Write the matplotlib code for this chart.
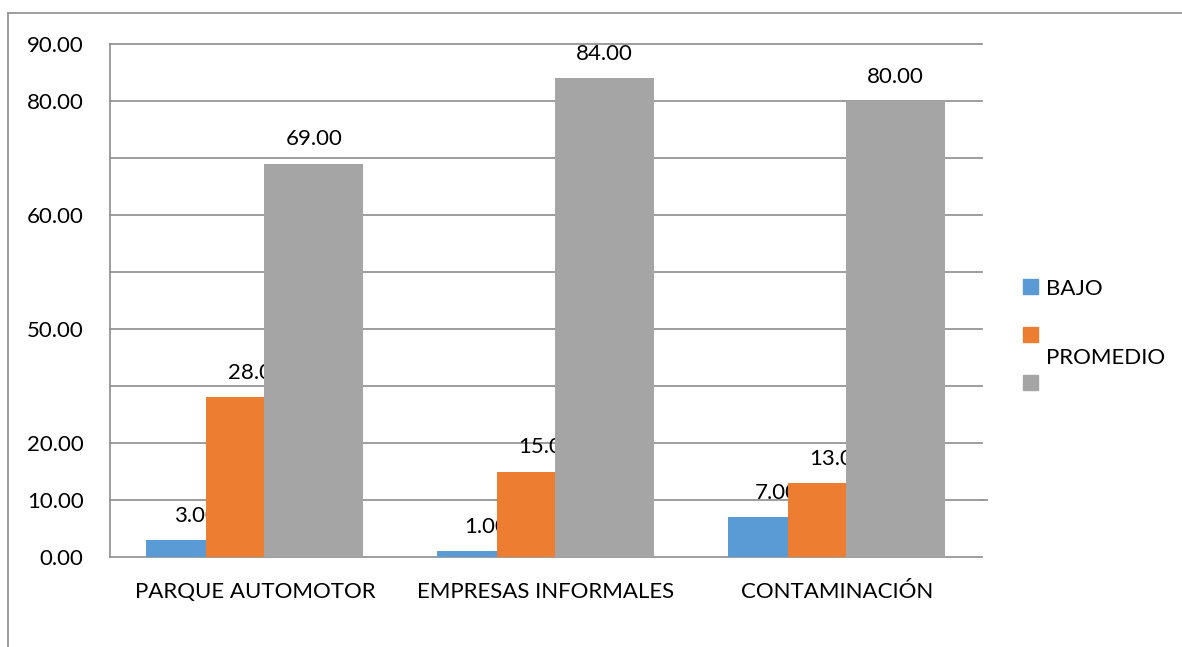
import matplotlib.pyplot as plt
from matplotlib.patches import Rectangle
from matplotlib.lines import Line2D
import numpy as np

plt.rcParams['font.family'] = ['Lato', 'DejaVu Sans']

categorias = ['PARQUE AUTOMOTOR', 'EMPRESAS INFORMALES', 'CONTAMINACIÓN']
bajo = [3.0, 1.0, 7.0]
promedio = [28.0, 15.0, 13.0]
alto = [69.0, 84.0, 80.0]

series = ['BAJO', 'PROMEDIO', '']
colores = ['#5B9BD5', '#ED7D31', '#A5A5A5']

y_ticks = [0, 10, 20, 30, 40, 50, 60, 70, 80, 90]
y_labels = ['0.00', '10.00', '20.00', '', '50.00', '', '60.00', '', '80.00', '90.00']

FS = 16
GRID = '#8C8C8C'

fig = plt.figure(figsize=(11.82, 6.47), dpi=100)
W, H = 1182, 647
ax = fig.add_axes([110 / W, (H - 557) / H, 872 / W, (557 - 44) / H])

x = np.arange(len(categorias))
# bordes izquierdos y anchos de cada serie dentro del grupo
izq = [-0.375, -0.169, 0.031]
anchos = [0.206, 0.200, 0.341]
dx_pts = [14, 15, 0]

for i, (vals, col) in enumerate(zip([bajo, promedio, alto], colores)):
    barras = ax.bar(x + izq[i], vals, anchos[i], align='edge', color=col, zorder=3)
    for b, v in zip(barras, vals):
        ax.annotate(f'{v:.2f}', xy=(b.get_x() + b.get_width() / 2, v),
                    xytext=(dx_pts[i], 17.5), textcoords='offset points',
                    ha='center', va='center', fontsize=FS, zorder=2)

ax.set_xlim(-0.5, 2.5)
ax.set_ylim(0, 90)
ax.set_yticks(y_ticks)
ax.set_yticklabels(y_labels)
ax.set_xticks(x)
ax.set_xticklabels(categorias)
ax.tick_params(axis='y', length=0, pad=19, labelsize=FS)
ax.tick_params(axis='x', length=0, pad=18, labelsize=FS)

ax.grid(axis='y', color=GRID, linewidth=1.2, zorder=1)
for gl in ax.get_ygridlines():
    gl.set_clip_on(False)
ax.hlines(10, 2.5, 2.52, color=GRID, linewidth=1.2, clip_on=False)

for s in ['top', 'right', 'bottom']:
    ax.spines[s].set_visible(False)
ax.spines['left'].set_color(GRID)
ax.spines['left'].set_linewidth(1.2)

# leyenda
for k, col in enumerate(colores):
    y0 = [279, 327, 375][k]
    fig.add_artist(Rectangle((1023 / W, (H - y0 - 15) / H), 15 / W, 15 / H,
                             transform=fig.transFigure, color=col))
fig.text(1046 / W, (H - 289) / H, 'BAJO', fontsize=FS, va='center')
fig.text(1046 / W, (H - 358) / H, 'PROMEDIO', fontsize=FS, va='center')

# marco exterior
fig.add_artist(Line2D([8 / W, 8 / W], [0, (H - 13) / H], color=GRID, linewidth=1.2))
fig.add_artist(Line2D([8 / W, 1], [(H - 13) / H, (H - 13) / H], color=GRID, linewidth=1.2))

fig.savefig('out.png', dpi=100)
